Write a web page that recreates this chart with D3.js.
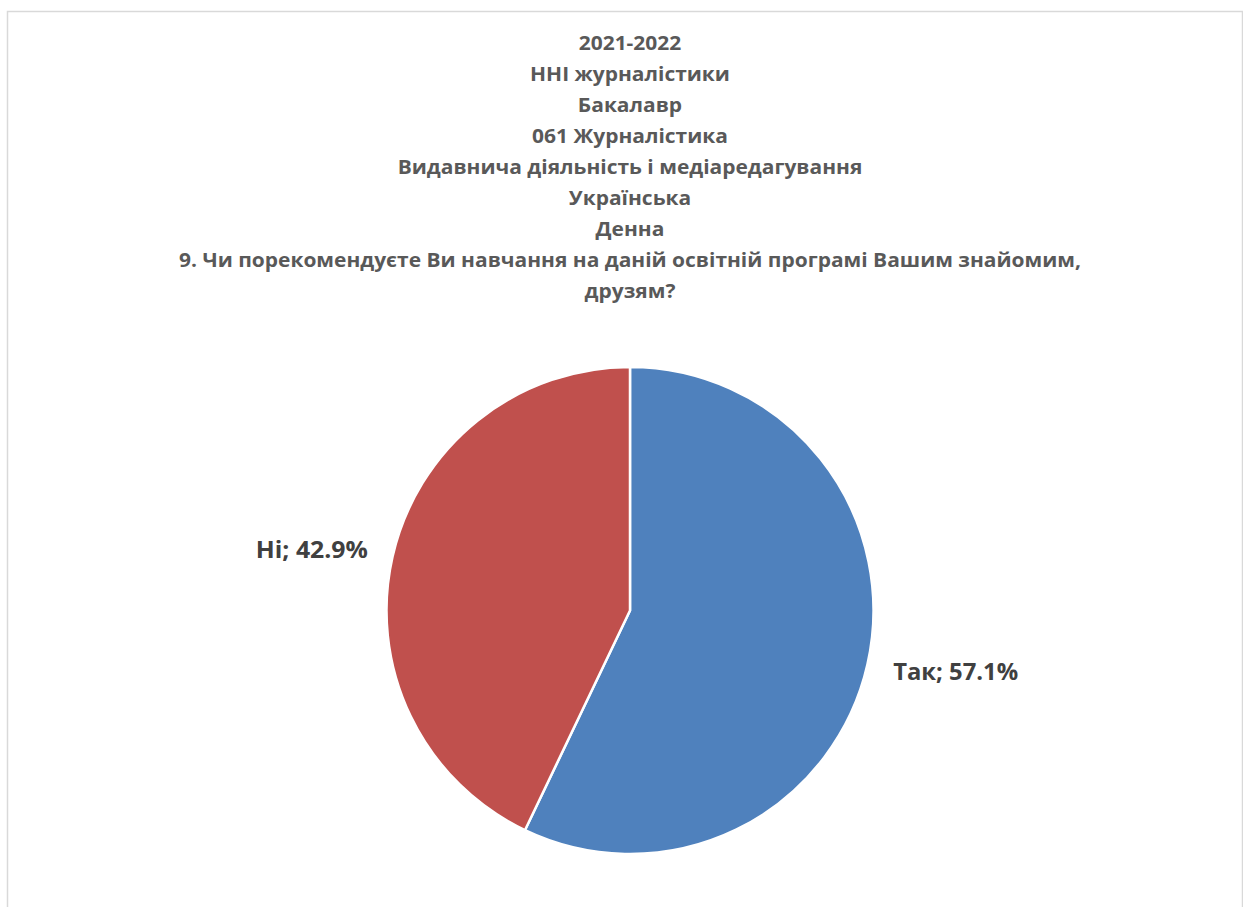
<!DOCTYPE html>
<html>
<head>
<meta charset="utf-8">
<script src="https://cdn.jsdelivr.net/npm/d3@7/dist/d3.min.js"></script>
<style>
  html, body { margin: 0; padding: 0; background: #fff; }
  svg { display: block; }
</style>
</head>
<body>
<svg id="chart" width="1243" height="907"></svg>
<script>
// ---- data ----
const titleLines = [
  "2021-2022",
  "ННІ журналістики",
  "Бакалавр",
  "061 Журналістика",
  "Видавнича діяльність і медіаредагування",
  "Українська",
  "Денна",
  "9. Чи порекомендуєте Ви навчання на даній освітній програмі Вашим знайомим,",
  "друзям?"
];
const categories = ["Так", "Ні"];
const values = [57.1, 42.9];
const colors = ["#4F81BD", "#C0504D"];

// ---- layout ----
const svg = d3.select("#chart");
const font = "'Open Sans', 'Liberation Sans', sans-serif";

svg.append("rect")
  .attr("x", 7.5).attr("y", 11.5)
  .attr("width", 1235).attr("height", 910)
  .attr("fill", "#fff")
  .attr("stroke", "#d9d9d9").attr("stroke-width", 1.5);

// title
const cx = 630, cy = 610.5, r = 243.5;
const titleG = svg.append("g");
const tSize = 19;
const texts = titleG.selectAll("text").data(titleLines).join("text")
  .attr("x", cx)
  .attr("y", (d, i) => 49.5 + i * 31.1)
  .attr("text-anchor", "middle")
  .attr("font-family", font)
  .attr("font-weight", "bold")
  .attr("font-size", tSize)
  .attr("fill", "#595959")
  .text(d => d);
// uniform horizontal scale so longest line matches reference width (~902px)
const longest = texts.filter((d, i) => i === 7).node().getComputedTextLength();
const sx = 902 / longest;
texts.each(function() {
  const w = this.getComputedTextLength();
  d3.select(this).attr("textLength", w * sx).attr("lengthAdjust", "spacingAndGlyphs");
});

// pie
const pie = d3.pie().sort(null).value(d => d.v);
const data = categories.map((c, i) => ({ c, v: values[i], col: colors[i] }));
const arcs = pie(data);
const arc = d3.arc().innerRadius(0).outerRadius(r);
const g = svg.append("g").attr("transform", `translate(${cx},${cy})`);
g.selectAll("path").data(arcs).join("path")
  .attr("d", arc)
  .attr("fill", d => d.data.col)
  .attr("stroke", "#fff")
  .attr("stroke-width", 2.5)
  .attr("stroke-linejoin", "miter");

const labelArc = d3.arc().innerRadius(275).outerRadius(275);
g.selectAll("text.lbl").data(arcs).join("text")
  .attr("class", "lbl")
  .attr("font-family", font)
  .attr("font-weight", "bold")
  .attr("font-size", 24)
  .attr("fill", "#404040")
  .each(function(d) {
    const [x, y] = labelArc.centroid(d);
    const right = x > 0;
    const t = d3.select(this)
      .attr("x", right ? x - 5 : x + 6)
      .attr("y", y)
      .attr("dy", "0.36em")
      .attr("text-anchor", right ? "start" : "end")
      .text(`${d.data.c}; ${d.data.v.toFixed(1)}%`);
    const target = right ? 125 : 112;
    t.attr("textLength", target).attr("lengthAdjust", "spacingAndGlyphs");
  });
</script>
</body>
</html>
